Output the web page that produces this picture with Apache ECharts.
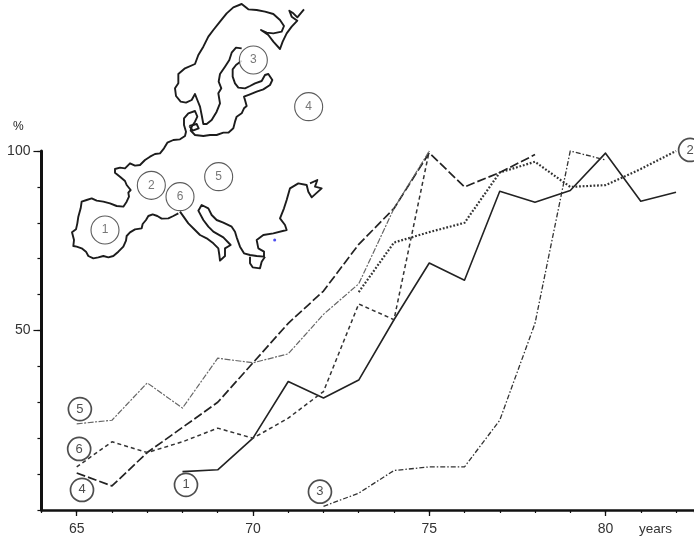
<!DOCTYPE html>
<html>
<head>
<meta charset="utf-8">
<style>html,body{margin:0;padding:0;background:#fff;overflow:hidden}#c{width:694px;height:538px;filter:blur(0.45px)}</style>
<script src="https://cdn.jsdelivr.net/npm/echarts@6/dist/echarts.min.js"></script>
</head>
<body>
<div id="c"></div>
<script>
const years = [65,66,67,68,69,70,71,72,73,74,75,76,77,78,79,80,81,82];
const region1 = [null,null,null,10.7,11.2,20,35.8,31.2,36.2,53,68.8,64,88.8,85.7,89,99.4,86,88.5];
const region2 = [null,null,null,null,null,null,null,null,60.7,74.5,77.4,80,94,97,90,90.5,95,100];
const region3 = [null,null,null,null,null,null,null,1,4.7,11,12,12,25,52,100,97.5,null,null];
const region4 = [10.3,6.7,16,23,30,41,52,61,74,84,99.5,90,94,99,null,null,null,null];
const region5 = [24,25,35.4,28.4,42.3,41,43.5,54.5,63,84,100,null,null,null,null,null,null,null];
const region6 = [12,19,16,19,22.8,20,25.6,33,57.4,53,100,null,null,null,null,null,null,null];
const xTickLabels = [65,70,75,80];
const yTickLabels = [50,100];
const curveBadges = [['1',68.1,7],['2',82.4,100.3],['3',71.9,5.1],['4',65.15,5.6],['5',65.09,28.1],['6',65.07,17]];
// Map outlines, in map units with y running downward
const coastNorth = [[355,640],[340,648],[325,655],[305,656],[292,648],[278,643],[265,648],[258,660],[248,672],[245,685],[225,688],[210,697],[200,708],[198,722],[190,740],[175,755],[160,768],[145,772],[130,768],[115,772],[100,775],[85,768],[78,755],[65,745],[50,740],[40,738],[42,720],[36,697],[48,688],[52,670],[55,650],[62,625],[65,605],[80,600],[95,595],[110,602],[130,605],[150,610],[170,618],[190,620],[200,605],[207,590],[205,578],[212,570],[200,555],[195,543],[180,530],[165,518],[165,507],[180,503],[195,505],[210,490],[225,497],[240,495],[255,480],[270,470],[285,462],[300,460],[312,445],[322,428],[340,420],[360,418],[375,408],[378,395],[372,375],[372,355],[385,340],[405,333],[412,350],[405,365],[395,380],[392,392],[405,405],[430,408],[450,405],[470,405],[490,398],[505,398],[520,385],[525,365],[530,350],[545,340],[552,325],[560,318],[555,300],[552,290],[570,283],[590,275],[610,268],[630,255],[637,240],[625,222],[615,225],[605,243],[585,250],[570,258],[555,265],[535,263],[525,250],[518,230],[518,208],[528,195],[545,182]];
const coastScandinavia = [[545,145],[528,143],[515,158],[508,180],[495,200],[480,222],[476,245],[484,265],[475,280],[480,310],[470,335],[455,360],[440,372],[430,372],[425,345],[420,320],[412,300],[405,282],[395,300],[378,308],[362,305],[348,288],[345,265],[355,250],[355,222],[375,205],[405,192],[415,165],[430,140],[445,110],[460,90],[480,65],[500,40],[520,22],[545,12],[565,28],[590,30],[615,35],[640,42],[660,60],[672,78],[665,95],[640,100],[620,98],[603,90],[625,105],[640,125],[660,147],[668,125],[680,100],[695,80],[712,62],[695,50],[688,32],[700,40],[712,52],[732,28]];
const coastSouth = [[360,635],[385,670],[405,690],[420,705],[440,715],[460,730],[475,745],[478,765],[480,782],[495,768],[495,745],[512,735],[490,712],[460,695],[445,680],[430,660],[415,632],[425,615],[445,625],[455,645],[470,660],[490,668],[515,680],[525,695],[530,712],[540,740],[552,760],[570,765],[590,768],[612,770],[612,755],[595,745],[590,720],[610,705],[640,700],[680,690],[675,675],[660,655],[672,625],[680,600],[690,565],[715,550],[740,555],[745,575],[755,592],[785,565],[765,560],[772,540],[750,550]];
const coastGreece = [[570,770],[570,790],[578,802],[600,805],[605,785],[615,770]];
const coastSound = [[388,378],[410,372],[416,385],[398,392],[388,378]];
const mapBadges = [['1',135,690],['2',274,556],['3',580,180],['4',746,320],['5',476,530],['6',360,590]];
const mapDot = [[644,720]];

const pairs = vals => years.map((y,i)=>[y,vals[i]]).filter(p=>p[1]!==null);
const lineSeries = (name,vals,w,color,type) => ({
  name, type:'line', data:pairs(vals), showSymbol:false, symbol:'none', clip:false, z:3,
  lineStyle:{width:w,color,type,cap:'butt',join:'round'}
});
const mapLine = data => ({
  type:'line', xAxisIndex:2, yAxisIndex:2, data, showSymbol:false, symbol:'none', z:2,
  lineStyle:{width:1.9,color:'#1c1c1c',join:'round'}
});
const ink = '#111';
const font = '"Liberation Sans", sans-serif';

const chart = echarts.init(document.getElementById('c'), null, {renderer:'canvas'});
chart.setOption({
  animation:false,
  backgroundColor:'#fff',
  grid:[
    {left:41.45, right:0, top:151, height:359, containLabel:false},
    {left:0, top:0, width:694, height:538}
  ],
  graphic:[
    {type:'text', left:13, top:121, style:{text:'%', font:'12px '+font, fill:'#222'}},
    {type:'text', left:639, top:522, style:{text:'years', font:'13.5px '+font, fill:'#333'}}
  ],
  xAxis:[
    {type:'value', gridIndex:0, min:64, max:82.51, position:'bottom', splitLine:{show:false},
     axisLine:{show:true,lineStyle:{color:ink,width:2.5}},
     axisTick:{show:true,length:6,customValues:xTickLabels,lineStyle:{color:ink,width:1.3}},
     axisLabel:{show:true,customValues:xTickLabels,margin:12,fontFamily:font,fontSize:14,color:'#333',formatter:v=>String(v)}},
    {type:'value', gridIndex:0, min:64, max:82.51, interval:1, position:'bottom', splitLine:{show:false},
     axisLine:{show:false}, axisTick:{show:true,length:3,lineStyle:{color:ink,width:1.2}}, axisLabel:{show:false}},
    {type:'value', gridIndex:1, min:-180, max:1902, show:false}
  ],
  yAxis:[
    {type:'value', gridIndex:0, min:0, max:100, position:'left', splitLine:{show:false},
     axisLine:{show:true,lineStyle:{color:ink,width:3}},
     axisTick:{show:true,length:8,customValues:yTickLabels,lineStyle:{color:ink,width:1.2}},
     axisLabel:{show:true,customValues:yTickLabels,margin:11,fontFamily:font,fontSize:14,color:'#333',formatter:v=>String(v)}},
    {type:'value', gridIndex:0, min:0, max:100, interval:10, position:'left', splitLine:{show:false},
     axisLine:{show:false}, axisTick:{show:true,length:4,lineStyle:{color:ink,width:1.2}}, axisLabel:{show:false}},
    {type:'value', gridIndex:1, min:0, max:1614, inverse:true, show:false}
  ],
  series:[
    mapLine(coastNorth), mapLine(coastScandinavia), mapLine(coastSouth), mapLine(coastGreece), mapLine(coastSound),
    {type:'scatter', xAxisIndex:2, yAxisIndex:2, data:mapDot, symbolSize:3, itemStyle:{color:'#2222ee'}, z:2},
    {type:'scatter', xAxisIndex:2, yAxisIndex:2, z:4, symbolSize:28,
     data:mapBadges.map(b=>({value:[b[1],b[2]],name:b[0]})),
     itemStyle:{color:'#fff',borderColor:'#333',borderWidth:1.1},
     label:{show:true,position:'inside',formatter:p=>p.name,fontFamily:font,fontSize:12,color:'#555'}},
    lineSeries('1',region1,1.6,'#222','solid'),
    lineSeries('2',region2,2.2,'#333',[1.8,1.8]),
    lineSeries('3',region3,1.3,'#333',[5,2,1.5,2]),
    lineSeries('4',region4,1.7,'#222',[9,3]),
    lineSeries('5',region5,1.2,'#666',[6,1.5,2,1.5]),
    lineSeries('6',region6,1.5,'#333',[4,3]),
    {type:'scatter', z:5, symbolSize:23, clip:false,
     data:curveBadges.map(b=>({value:[b[1],b[2]],name:b[0]})),
     itemStyle:{color:'#fff',borderColor:'#222',borderWidth:1.7},
     label:{show:true,position:'inside',formatter:p=>p.name,fontFamily:font,fontSize:13,color:'#222'}}
  ]
});
</script>
</body>
</html>
